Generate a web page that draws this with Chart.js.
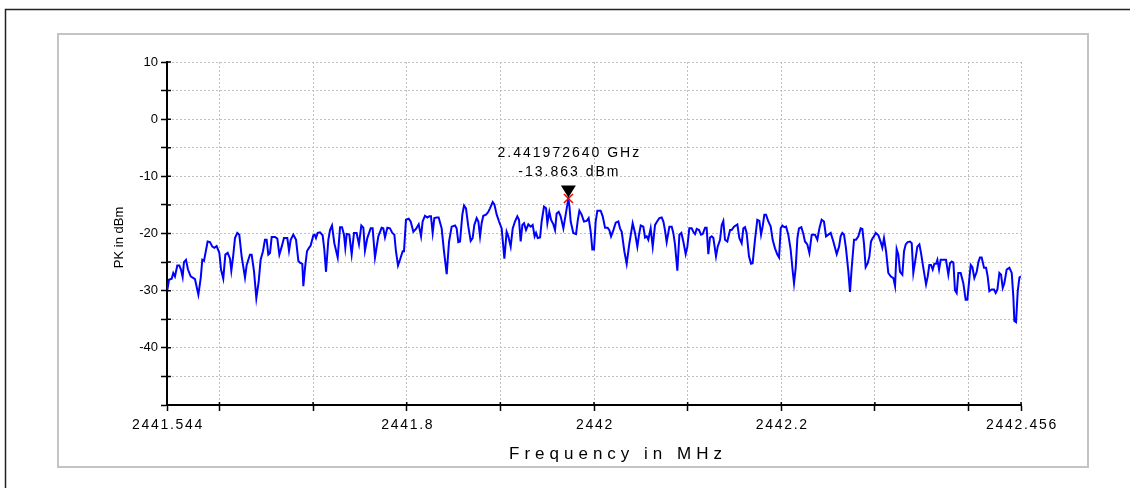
<!DOCTYPE html>
<html>
<head>
<meta charset="utf-8">
<script src="https://cdn.jsdelivr.net/npm/chart.js@4.4.1/dist/chart.umd.min.js"></script>
<style>
html,body{margin:0;padding:0;background:#fff;}
canvas{display:block;}
</style>
</head>
<body>
<canvas id="c" width="1130" height="488"></canvas>
<script>
// ---- data ----
const freqMHz = [
2441.544,2441.5461,2441.5490,2441.5507,2441.5525,2441.5550,2441.5572,2441.5589,2441.5607,2441.5621,
2441.5643,2441.5664,2441.5693,2441.5739,2441.5775,2441.5800,2441.5817,2441.5835,2441.5874,2441.5899,
2441.5924,2441.5945,2441.5970,2441.5999,2441.6017,2441.6041,2441.6063,2441.6088,2441.6113,2441.6127,
2441.6145,2441.6166,2441.6191,2441.6212,2441.6237,2441.6273,2441.6291,2441.6326,2441.6344,2441.6369,
2441.6394,2441.6419,2441.6440,2441.6465,2441.6486,2441.6504,2441.6522,2441.6540,2441.6558,2441.6593,
2441.6618,2441.6640,2441.6665,2441.6689,2441.6725,2441.6743,2441.6761,2441.6789,2441.6818,2441.6843,
2441.6860,2441.6885,2441.6896,2441.6914,2441.6935,2441.6953,2441.6974,2441.7003,2441.7017,2441.7031,
2441.7049,2441.7074,2441.7102,2441.7120,2441.7138,2441.7163,2441.7181,2441.7202,2441.7227,2441.7263,
2441.7288,2441.7309,2441.7330,2441.7344,2441.7359,2441.7387,2441.7412,2441.7437,2441.7465,2441.7490,
2441.7515,2441.7537,2441.7554,2441.7579,2441.7615,2441.7636,2441.7661,2441.7697,2441.7732,2441.7750,
2441.7768,2441.7793,2441.7821,2441.7846,2441.7868,2441.7885,2441.7907,2441.7928,2441.7957,2441.7971,
2441.7992,2441.8021,2441.8042,2441.8071,2441.8099,2441.8128,2441.8153,2441.8170,2441.8195,2441.8220,
2441.8242,2441.8259,2441.8277,2441.8295,2441.8320,2441.8341,
2441.8373,2441.8398,2441.8427,2441.8452,2441.8480,2441.8516,2441.8533,2441.8551,2441.8569,2441.8594,
2441.8612,2441.8633,2441.8658,2441.8683,2441.8704,2441.8722,2441.8747,2441.8765,2441.8783,2441.8800,
2441.8818,2441.8847,2441.8872,2441.8889,2441.8918,2441.8936,2441.8961,2441.8986,2441.9014,2441.9043,
2441.9067,2441.9085,2441.9110,2441.9132,2441.9156,2441.9181,2441.9199,2441.9217,2441.9235,2441.9253,
2441.9274,2441.9299,2441.9324,2441.9345,2441.9366,2441.9381,2441.9399,2441.9424,2441.9441,2441.9466,
2441.9488,2441.9502,2441.9523,2441.9541,2441.9566,2441.9584,2441.9601,2441.9623,2441.9644,2441.9673,
2441.97264,2441.9738,2441.9751,2441.9779,2441.9808,2441.9826,2441.9844,2441.9868,2441.9893,2441.9922,
2441.9943,2441.9965,2441.9982,2442.0000,2442.0018,2442.0036,2442.0071,2442.0093,2442.0118,2442.0146,
2442.0164,2442.0182,2442.0207,2442.0232,2442.0260,2442.0278,2442.0296,2442.0324,2442.0349,2442.0378,
2442.0413,2442.0438,2442.0463,2442.0481,2442.0499,2442.0527,2442.0545,2442.0563,2442.0580,2442.0605,
2442.0627,2442.0652,2442.0677,2442.0698,2442.0723,2442.0741,2442.0758,2442.0776,2442.0805,2442.0830,
2442.0847,2442.0865,2442.0890,2442.0912,2442.0933,2442.0954,2442.0979,2442.0997,2442.1018,2442.1043,
2442.1061,2442.1079,2442.1097,2442.1122,2442.1143,2442.1161,2442.1186,2442.1203,2442.1221,2442.1239,
2442.1257,2442.1275,2442.1303,2442.1321,2442.1346,2442.1364,2442.1381,2442.1399,2442.1424,2442.1453,
2442.1470,2442.1495,2442.1531,2442.1552,2442.1577,2442.1595,2442.1613,2442.1630,2442.1655,2442.1677,
2442.1694,2442.1719,2442.1744,2442.1766,2442.1784,2442.1801,2442.1819,2442.1837,2442.1862,2442.1887,
2442.1908,2442.1933,2442.1958,2442.1976,2442.1994,2442.2011,2442.2033,2442.2051,2442.2075,2442.2100,
2442.2122,2442.2136,2442.2154,2442.2172,2442.2189,2442.2214,2442.2236,2442.2253,2442.2278,2442.2300,
2442.2325,2442.2360,2442.2385,2442.2407,2442.2431,2442.2456,2442.2478,2442.2503,2442.2528,2442.2556,
2442.2592,2442.2617,2442.2634,2442.2652,2442.2670,2442.2691,2442.2716,2442.2734,2442.2752,2442.2777,
2442.2798,2442.2823,2442.2848,2442.2866,2442.2884,2442.2901,2442.2923,2442.2941,2442.2958,2442.2976,
2442.2990,2442.3008,2442.3037,2442.3062,2442.3079,2442.3097,2442.3119,2442.3143,2442.3168,2442.3197,
2442.3215,2442.3232,2442.3250,2442.3268,2442.3293,2442.3311,2442.3329,2442.3350,2442.3375,2442.3393,
2442.3410,2442.3432,2442.3453,2442.3475,2442.3492,2442.3517,2442.3546,2442.3564,2442.3581,2442.3599,
2442.3617,2442.3635,2442.3653,2442.3667,2442.3685,2442.3702,2442.3731,2442.3759,2442.3784,2442.3802,
2442.3820,2442.3838,2442.3855,2442.3873,2442.3891,2442.3916,2442.3944,2442.3969,2442.3987,2442.4009,
2442.4023,2442.4041,2442.4062,2442.4087,2442.4105,2442.4122,2442.4140,2442.4165,2442.4187,2442.4204,
2442.4222,2442.4247,2442.4272,2442.4290,2442.4308,2442.4329,2442.4347,2442.4365,2442.4382,2442.4407,
2442.4436,2442.4461,2442.4478,2442.4489,2442.4507,2442.4525,2442.4543,2442.456
];
const levelDbm = [
-30.2,-28.1,-27.9,-26.9,-27.5,-25.6,-25.6,-26.3,-27.6,-25.0,
-24.6,-26.3,-27.5,-28.0,-30.7,-27.8,-24.6,-24.8,-21.4,-21.5,
-22.3,-22.5,-22.2,-23.4,-26.3,-27.9,-23.7,-23.4,-24.4,-26.5,
-24.2,-20.8,-19.9,-20.2,-24.0,-27.7,-25.5,-23.7,-23.7,-26.6,
-31.3,-28.4,-24.6,-23.1,-21.1,-21.1,-23.7,-23.4,-20.6,-20.6,
-20.9,-23.7,-22.3,-20.8,-20.8,-23.0,-21.1,-20.2,-21.1,-24.8,
-25.1,-25.3,-29.2,-26.0,-23.1,-22.6,-22.1,-20.3,-20.2,-20.8,
-19.9,-19.8,-20.3,-22.8,-26.7,-21.1,-19.4,-18.6,-21.7,-24.2,
-18.9,-18.9,-20.2,-22.5,-20.1,-20.2,-23.7,-19.9,-19.9,-21.9,
-18.6,-19.0,-23.0,-20.8,-19.1,-19.1,-24.2,-20.5,-19.0,-19.1,
-20.7,-19.0,-19.1,-19.9,-20.2,-23.1,-25.6,-24.6,-23.1,-23.1,
-17.6,-17.4,-17.9,-19.7,-19.2,-18.4,-20.5,-17.9,-16.9,-17.2,
-17.0,-17.0,-19.9,-17.3,-17.2,-17.2,
-19.1,-23.1,-27.1,-21.4,-18.8,-18.6,-19.1,-21.5,-21.4,-16.7,
-15.1,-15.6,-18.8,-21.3,-20.8,-18.5,-17.3,-17.9,-20.5,-18.2,
-16.9,-16.7,-16.2,-15.6,-14.5,-14.9,-16.7,-17.9,-19.1,-24.4,
-19.7,-20.5,-22.3,-19.1,-17.9,-17.0,-17.6,-21.4,-18.5,-18.2,
-19.4,-18.4,-18.8,-18.5,-20.5,-19.9,-20.8,-20.7,-17.9,-15.3,
-15.6,-18.2,-16.2,-17.6,-18.4,-19.4,-16.5,-16.2,-17.0,-19.1,
-13.863,-15.3,-17.9,-19.9,-20.1,-17.8,-16.0,-16.7,-17.9,-17.8,
-17.3,-19.7,-22.8,-22.8,-17.9,-16.0,-16.0,-17.0,-19.0,-19.0,
-19.4,-20.5,-19.4,-18.1,-17.9,-19.1,-19.7,-23.1,-25.3,-21.7,
-18.2,-19.9,-22.3,-20.2,-18.6,-18.8,-20.7,-20.5,-21.1,-19.1,
-22.3,-18.5,-17.8,-17.3,-17.2,-17.9,-19.4,-21.5,-18.8,-18.8,
-19.9,-21.9,-26.5,-20.2,-19.9,-21.4,-23.6,-22.3,-19.1,-19.1,
-19.7,-20.1,-19.2,-19.4,-20.2,-20.1,-19.0,-19.0,-23.6,-20.7,
-20.5,-20.8,-24.0,-22.3,-21.1,-18.5,-17.8,-21.1,-21.4,-19.4,
-19.4,-18.8,-18.4,-20.8,-21.7,-19.1,-18.9,-19.9,-24.0,-25.3,
-25.2,-21.1,-17.6,-17.8,-20.2,-18.8,-16.7,-16.7,-17.9,-18.8,
-21.1,-22.6,-23.7,-24.2,-19.1,-18.6,-18.9,-18.8,-20.2,-22.8,
-26.6,-28.7,-26.0,-20.8,-19.1,-18.9,-20.1,-21.4,-21.9,-23.4,
-20.2,-20.2,-21.1,-19.1,-17.6,-17.9,-20.5,-20.2,-19.9,-21.4,
-23.6,-22.3,-20.5,-19.9,-20.2,-22.6,-26.6,-30.2,-26.0,-21.1,
-21.1,-20.5,-19.1,-19.2,-21.9,-25.9,-25.2,-24.0,-21.4,-20.8,
-20.5,-19.9,-20.3,-21.5,-22.5,-20.8,-23.1,-26.9,-27.5,-27.8,
-29.2,-22.7,-23.7,-26.7,-27.2,-23.1,-21.9,-21.5,-21.4,-21.7,
-26.9,-24.6,-22.3,-21.9,-23.4,-26.0,-28.9,-27.5,-25.5,-25.5,
-26.3,-25.3,-25.3,-24.6,-26.3,-24.6,-24.6,-24.6,-27.2,-25.2,
-24.9,-25.1,-29.9,-30.4,-26.9,-26.9,-28.7,-31.6,-31.6,-27.8,
-25.5,-25.9,-27.8,-26.7,-25.0,-24.2,-24.2,-26.0,-26.0,-27.5,
-30.1,-29.8,-29.8,-30.4,-29.8,-26.9,-27.2,-29.5,-28.7,-26.3,
-26.0,-26.9,-31.0,-35.3,-35.5,-30.1,-27.7,-27.5
];
const markerFreq = [2441.97264];
const markerLevel = [-13.863];
const markerText = ['2.441972640 GHz', '-13.863 dBm'];
const xTickValues = [2441.544, 2441.6, 2441.7, 2441.8, 2441.9, 2442.0, 2442.1, 2442.2, 2442.3, 2442.4, 2442.456];
const xTickLabels = ['2441.544', '', '', '2441.8', '', '2442', '', '2442.2', '', '', '2442.456'];
const yLabelValues = [10, 0, -10, -20, -30, -40];
const xTitle = 'Frequency in MHz';
const yTitle = 'PK in dBm';

// ---- chart ----
const FONT = '"Liberation Sans", Arial, Helvetica, sans-serif';
Chart.defaults.font.family = FONT;
Chart.defaults.color = '#000';

function patchText(scale, method, spacing, dx, dy) {
  const key = '_patched_' + method;
  if (scale[key]) return;
  const orig = scale[method];
  scale[method] = function () {
    const ctx = this.ctx;
    ctx.save();
    try { ctx.letterSpacing = spacing; } catch (e) {}
    ctx.translate(dx, dy);
    orig.apply(this, arguments);
    ctx.restore();
  };
  scale[key] = true;
}

const framePlugin = {
  id: 'frames',
  beforeDraw(chart) {
    const ctx = chart.ctx;
    ctx.save();
    ctx.fillStyle = '#fff';
    ctx.fillRect(0, 0, chart.width, chart.height);
    ctx.strokeStyle = '#222';
    ctx.lineWidth = 1.5;
    ctx.beginPath();
    ctx.moveTo(5.5, chart.height + 5);
    ctx.lineTo(5.5, 9.5);
    ctx.lineTo(chart.width + 5, 9.5);
    ctx.stroke();
    ctx.strokeStyle = '#c4c4c4';
    ctx.lineWidth = 2;
    ctx.strokeRect(58, 34, 1030, 433);
    ctx.restore();
  }
};

// tick marks that cross the axis line slightly into the plot (as in the reference)
const innerTickPlugin = {
  id: 'innerTicks',
  afterDraw(chart) {
    const ctx = chart.ctx;
    const xs = chart.scales.x, ys = chart.scales.y;
    ctx.save();
    ctx.strokeStyle = '#000';
    ctx.lineWidth = 1.5;
    ctx.beginPath();
    ys.ticks.forEach(t => {
      const p = ys.getPixelForValue(t.value);
      ctx.moveTo(xs.left, p); ctx.lineTo(xs.left + 4, p);
    });
    xs.ticks.forEach(t => {
      const p = xs.getPixelForValue(t.value);
      ctx.moveTo(p, ys.bottom); ctx.lineTo(p, ys.bottom - 3);
    });
    ctx.stroke();
    ctx.restore();
  }
};

const markerPlugin = {
  id: 'marker',
  afterDatasetsDraw(chart) {
    const ctx = chart.ctx;
    const xs = chart.scales.x, ys = chart.scales.y;
    const px = xs.getPixelForValue(markerFreq[0]);
    const py = ys.getPixelForValue(markerLevel[0]);
    ctx.save();
    ctx.fillStyle = '#000';
    ctx.beginPath();
    ctx.moveTo(px, py - 1);
    ctx.lineTo(px - 7.5, py - 13);
    ctx.lineTo(px + 7.5, py - 13);
    ctx.closePath();
    ctx.fill();
    ctx.strokeStyle = '#ff0000';
    ctx.lineWidth = 1.5;
    ctx.beginPath();
    ctx.moveTo(px - 4.5, py - 4.5); ctx.lineTo(px + 4.5, py + 4.5);
    ctx.moveTo(px + 4.5, py - 4.5); ctx.lineTo(px - 4.5, py + 4.5);
    ctx.stroke();
    ctx.font = '14px ' + FONT;
    try { ctx.letterSpacing = '2px'; } catch (e) {}
    ctx.textAlign = 'center';
    ctx.textBaseline = 'alphabetic';
    ctx.fillStyle = '#000';
    ctx.fillText(markerText[0], px + 1, py - 41);
    ctx.fillText(markerText[1], px + 1, py - 22);
    ctx.restore();
  }
};

const points = freqMHz.map((f, i) => ({ x: f, y: levelDbm[i] }));

new Chart(document.getElementById('c'), {
  type: 'line',
  data: {
    datasets: [{
      data: points,
      borderColor: '#0000ff',
      borderWidth: 2,
      pointRadius: 0,
      tension: 0,
      fill: false
    }]
  },
  options: {
    responsive: false,
    animation: false,
    devicePixelRatio: 1,
    layout: { padding: { left: 112, right: 109, top: 62, bottom: 23 } },
    plugins: { legend: { display: false }, tooltip: { enabled: false } },
    scales: {
      x: {
        type: 'linear',
        min: 2441.544,
        max: 2442.456,
        afterBuildTicks(scale) { scale.ticks = xTickValues.map(v => ({ value: v })); },
        afterFit(scale) {
          scale.height = 60;
          patchText(scale, 'drawLabels', '1.7px', 1, 0);
          patchText(scale, 'drawTitle', '5px', 24, 0);
        },
        ticks: {
          autoSkip: false, maxRotation: 0, minRotation: 0, padding: 6,
          font: { size: 14 }, color: '#000',
          callback: (v, i) => xTickLabels[i]
        },
        grid: { color: '#c0c0c0', lineWidth: 1, tickColor: '#000', tickLength: 6, tickWidth: 1.5 },
        border: { display: true, color: '#000', width: 2, dash: [2, 2] },
        title: { display: true, text: xTitle, font: { size: 17 }, color: '#000', padding: { top: 0, bottom: 0 } }
      },
      y: {
        type: 'linear',
        min: -50,
        max: 10,
        afterFit(scale) {
          scale.width = 55;
          patchText(scale, 'drawTitle', '0px', 0, 4);
        },
        ticks: {
          stepSize: 5, autoSkip: false, padding: 3,
          font: { size: 13 }, color: '#000',
          callback: (v) => yLabelValues.includes(v) ? String(v) : ''
        },
        grid: { color: '#c0c0c0', lineWidth: 1, tickColor: '#000', tickLength: 6, tickWidth: 1.5 },
        border: { display: true, color: '#000', width: 2, dash: [2, 2] },
        title: { display: true, text: yTitle, font: { size: 13 }, color: '#000', padding: { top: 0, bottom: 0 } }
      }
    }
  },
  plugins: [framePlugin, markerPlugin, innerTickPlugin]
});
</script>
</body>
</html>
